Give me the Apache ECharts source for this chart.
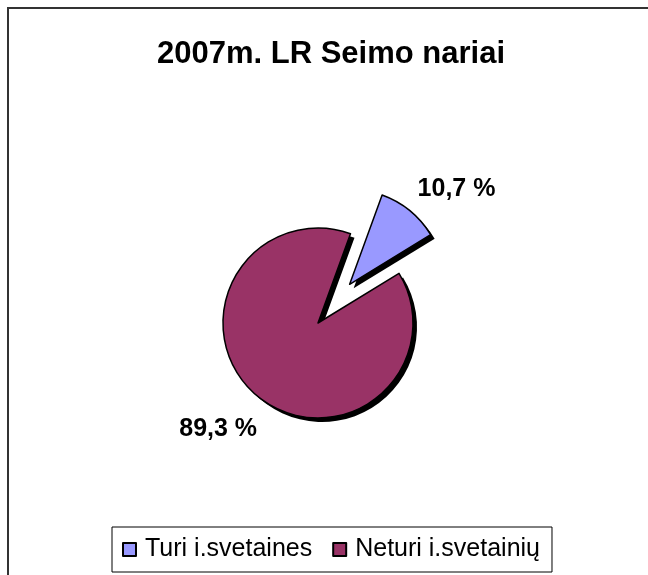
<!DOCTYPE html>
<html>
<head>
<meta charset="utf-8">
<script src="https://cdn.jsdelivr.net/npm/echarts@6/dist/echarts.min.js"></script>
<style>
  html, body { margin: 0; padding: 0; background: #fff; }
  #main { width: 648px; height: 575px; }
</style>
</head>
<body>
<div id="main"></div>
<script>
var titleText = '2007m. LR Seimo nariai';
var categories = ['Turi i.svetaines', 'Neturi i.svetainių'];
var shares = [10.7, 89.3];
var labels = ['10,7 %', '89,3 %'];
var colors = ['#9999ff', '#993366'];

var myChart = echarts.init(document.getElementById('main'));

// label nudges (px) so the outside labels sit where Excel put them
var labelShift = [[-18, -2], [25, 13]];

function pieBase(extra) {
    var s = {
        type: 'pie',
        center: [318, 323],
        radius: 95,
        startAngle: 70,
        clockwise: true,
        selectedMode: 'single',
        selectedOffset: 50,
        avoidLabelOverlap: false,
        emphasis: { disabled: true },
        legendHoverLink: false
    };
    for (var k in extra) s[k] = extra[k];
    return s;
}

var option = {
    animation: false,
    title: {
        text: titleText,
        left: 152,
        top: 34,
        textStyle: {
            fontFamily: 'Liberation Sans, Arial, sans-serif',
            fontSize: 31,
            fontWeight: 'bold',
            color: '#000'
        }
    },
    legend: {
        data: categories,
        bottom: 3,
        left: 112,
        itemWidth: 13,
        itemHeight: 13,
        itemGap: 20,
        padding: [10, 12, 10, 10],
        borderColor: '#000',
        borderWidth: 1,
        icon: 'rect',
        selectedMode: false,
        itemStyle: { borderColor: '#000', borderWidth: 2 },
        textStyle: {
            fontFamily: 'Liberation Sans, Arial, sans-serif',
            fontSize: 25,
            color: '#000',
            padding: [0, 0, 0, 4]
        }
    },
    graphic: [{
        type: 'rect',
        shape: { x: 8, y: 8, width: 800, height: 800 },
        style: { fill: 'none', stroke: '#333', lineWidth: 2 },
        silent: true,
        z: -1
    }],
    series: [
        // shadow copy, shifted down-right
        pieBase({
            name: 'shadow',
            center: [322, 327],
            silent: true,
            z: 1,
            itemStyle: { color: '#000', borderWidth: 0 },
            label: { show: false },
            labelLine: { show: false },
            data: shares.map(function (v, i) {
                return { name: 'shadow' + i, value: v, selected: i === 0 };
            })
        }),
        pieBase({
            name: 'Seimo nariai',
            z: 2,
            itemStyle: { borderColor: '#000', borderWidth: 1.5 },
            label: {
                show: true,
                position: 'outside',
                formatter: function (p) { return labels[p.dataIndex]; },
                fontFamily: 'Liberation Sans, Arial, sans-serif',
                fontSize: 25,
                fontWeight: 'bold',
                color: '#000'
            },
            labelLine: { show: false, length: 25, length2: 5 },
            labelLayout: function (p) {
                return { dx: labelShift[p.dataIndex][0], dy: labelShift[p.dataIndex][1] };
            },
            data: categories.map(function (name, i) {
                return {
                    name: name,
                    value: shares[i],
                    selected: i === 0,
                    itemStyle: { color: colors[i] }
                };
            })
        })
    ]
};
myChart.setOption(option);
</script>
</body>
</html>
